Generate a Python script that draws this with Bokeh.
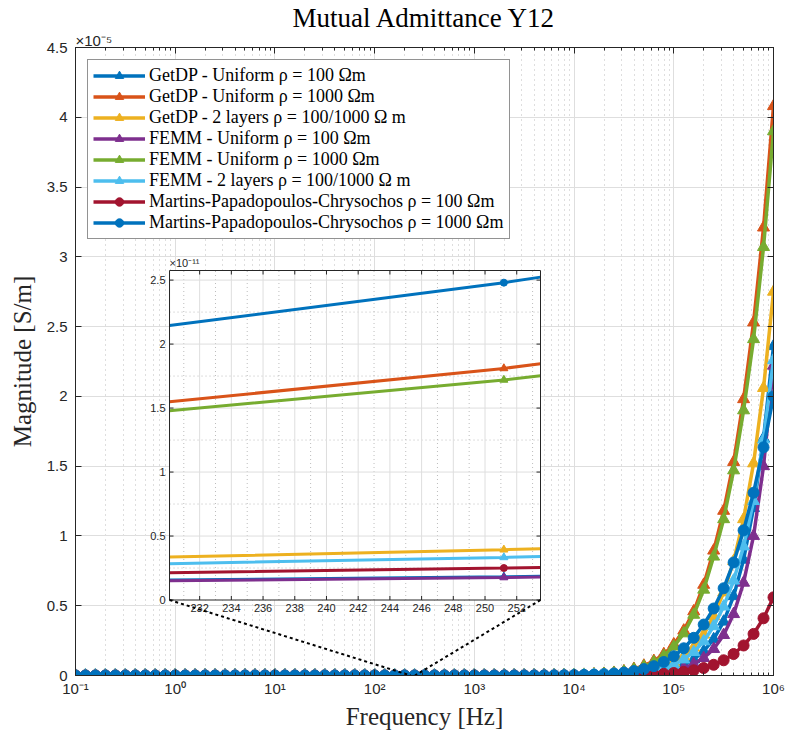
import numpy as np
from bokeh.plotting import figure
from bokeh.models import (Range1d, FixedTicker, LinearScale, LinearAxis, LogAxis,
                          Legend, LegendItem, Title)
from bokeh.core.properties import value
from bokeh.embed import file_html
from bokeh.resources import INLINE

# Frequency sweep: 10 points per decade, 0.1 Hz .. 1 MHz
freq_hz = np.logspace(-1, 6, 71)

# |Y12| in S/m for every model (71 samples each)
getdp_uniform_100 = [
    2.96e-19, 4.70e-19, 7.45e-19, 1.18e-18, 1.87e-18,
    2.96e-18, 4.70e-18, 7.45e-18, 1.18e-17, 1.87e-17,
    2.96e-17, 4.70e-17, 7.45e-17, 1.18e-16, 1.87e-16,
    2.96e-16, 4.70e-16, 7.45e-16, 1.18e-15, 1.87e-15,
    2.96e-15, 4.70e-15, 7.45e-15, 1.18e-14, 1.87e-14,
    2.96e-14, 4.70e-14, 7.45e-14, 1.18e-13, 1.87e-13,
    2.96e-13, 4.70e-13, 7.45e-13, 1.18e-12,
    1.82e-12, 2.85e-12, 4.66e-12, 7.63e-12, 1.25e-11, 2.04e-11, 3.34e-11, 5.47e-11,
    8.94e-11, 1.46e-10, 2.39e-10, 3.92e-10, 6.41e-10, 1.05e-9, 1.71e-9, 2.80e-9,
    4.59e-9, 7.51e-9, 1.23e-8, 2.01e-8, 3.29e-8, 5.38e-8, 8.80e-8, 1.37e-7,
    2.11e-7, 3.25e-7, 4.97e-7, 7.58e-7, 1.15e-6, 1.74e-6, 2.60e-6, 3.86e-6,
    5.68e-6, 8.30e-6, 1.20e-5, 1.70e-5, 2.36e-5,
]
getdp_uniform_1000 = [
    2.94e-18, 4.66e-18, 7.39e-18, 1.17e-17, 1.86e-17,
    2.94e-17, 4.66e-17, 7.39e-17, 1.17e-16, 1.86e-16,
    2.94e-16, 4.66e-16, 7.39e-16, 1.17e-15, 1.86e-15,
    2.94e-15, 4.66e-15, 7.39e-15, 1.17e-14, 1.86e-14,
    2.94e-14, 4.66e-14, 7.39e-14, 1.17e-13, 1.86e-13,
    2.94e-13, 4.66e-13, 7.39e-13, 1.17e-12, 1.86e-12,
    2.94e-12, 4.66e-12, 7.39e-12, 1.17e-11,
    1.81e-11, 2.84e-11, 4.56e-11, 7.24e-11, 1.15e-10, 1.83e-10, 2.90e-10, 4.60e-10,
    7.31e-10, 1.16e-9, 1.84e-9, 2.93e-9, 4.65e-9, 7.39e-9, 1.17e-8, 1.86e-8,
    2.96e-8, 4.70e-8, 7.46e-8, 1.19e-7, 1.88e-7, 2.99e-7, 4.75e-7, 7.05e-7,
    1.04e-6, 1.53e-6, 2.23e-6, 3.22e-6, 4.60e-6, 6.50e-6, 8.95e-6, 1.18e-5,
    1.53e-5, 1.98e-5, 2.53e-5, 3.21e-5, 4.08e-5,
]
getdp_two_layer = [
    6.35e-19, 1.01e-18, 1.60e-18, 2.53e-18, 4.01e-18,
    6.35e-18, 1.01e-17, 1.60e-17, 2.53e-17, 4.01e-17,
    6.35e-17, 1.01e-16, 1.60e-16, 2.53e-16, 4.01e-16,
    6.35e-16, 1.01e-15, 1.60e-15, 2.53e-15, 4.01e-15,
    6.35e-15, 1.01e-14, 1.60e-14, 2.53e-14, 4.01e-14,
    6.35e-14, 1.01e-13, 1.60e-13, 2.53e-13, 4.01e-13,
    6.35e-13, 1.01e-12, 1.60e-12, 2.53e-12,
    3.93e-12, 6.10e-12, 9.94e-12, 1.62e-11, 2.64e-11, 4.31e-11, 7.02e-11, 1.14e-10,
    1.87e-10, 3.04e-10, 4.95e-10, 8.07e-10, 1.32e-9, 2.15e-9, 3.50e-9, 5.70e-9,
    9.29e-9, 1.51e-8, 2.47e-8, 4.02e-8, 6.56e-8, 1.07e-7, 1.76e-7, 2.68e-7,
    4.05e-7, 6.10e-7, 9.20e-7, 1.37e-6, 2.00e-6, 2.93e-6, 4.25e-6, 5.95e-6,
    8.20e-6, 1.12e-5, 1.52e-5, 2.06e-5, 2.75e-5,
]
femm_uniform_100 = [
    2.81e-19, 4.46e-19, 7.07e-19, 1.12e-18, 1.78e-18,
    2.81e-18, 4.46e-18, 7.07e-18, 1.12e-17, 1.78e-17,
    2.81e-17, 4.46e-17, 7.07e-17, 1.12e-16, 1.78e-16,
    2.81e-16, 4.46e-16, 7.07e-16, 1.12e-15, 1.78e-15,
    2.81e-15, 4.46e-15, 7.07e-15, 1.12e-14, 1.78e-14,
    2.81e-14, 4.46e-14, 7.07e-14, 1.12e-13, 1.78e-13,
    2.81e-13, 4.46e-13, 7.07e-13, 1.12e-12,
    1.76e-12, 2.74e-12, 4.43e-12, 7.17e-12, 1.16e-11, 1.87e-11, 3.03e-11, 4.90e-11,
    7.92e-11, 1.28e-10, 2.07e-10, 3.35e-10, 5.42e-10, 8.76e-10, 1.42e-9, 2.29e-9,
    3.70e-9, 5.99e-9, 9.68e-9, 1.57e-8, 2.53e-8, 4.09e-8, 6.62e-8, 1.00e-7,
    1.53e-7, 2.33e-7, 3.55e-7, 5.40e-7, 8.20e-7, 1.25e-6, 1.90e-6, 2.90e-6,
    4.40e-6, 6.65e-6, 1.00e-5, 1.50e-5, 2.22e-5,
]
femm_uniform_1000 = [
    2.84e-18, 4.50e-18, 7.14e-18, 1.13e-17, 1.79e-17,
    2.84e-17, 4.50e-17, 7.14e-17, 1.13e-16, 1.79e-16,
    2.84e-16, 4.50e-16, 7.14e-16, 1.13e-15, 1.79e-15,
    2.84e-15, 4.50e-15, 7.14e-15, 1.13e-14, 1.79e-14,
    2.84e-14, 4.50e-14, 7.14e-14, 1.13e-13, 1.79e-13,
    2.84e-13, 4.50e-13, 7.14e-13, 1.13e-12, 1.79e-12,
    2.84e-12, 4.50e-12, 7.14e-12, 1.13e-11,
    1.72e-11, 2.65e-11, 4.21e-11, 6.68e-11, 1.06e-10, 1.68e-10, 2.67e-10, 4.23e-10,
    6.72e-10, 1.07e-9, 1.69e-9, 2.68e-9, 4.26e-9, 6.76e-9, 1.07e-8, 1.70e-8,
    2.70e-8, 4.28e-8, 6.79e-8, 1.08e-7, 1.71e-7, 2.71e-7, 4.31e-7, 6.43e-7,
    9.55e-7, 1.41e-6, 2.07e-6, 3.02e-6, 4.35e-6, 6.15e-6, 8.52e-6, 1.12e-5,
    1.47e-5, 1.90e-5, 2.41e-5, 3.07e-5, 3.90e-5,
]
femm_two_layer = [
    5.35e-19, 8.48e-19, 1.34e-18, 2.13e-18, 3.38e-18,
    5.35e-18, 8.48e-18, 1.34e-17, 2.13e-17, 3.38e-17,
    5.35e-17, 8.48e-17, 1.34e-16, 2.13e-16, 3.38e-16,
    5.35e-16, 8.48e-16, 1.34e-15, 2.13e-15, 3.38e-15,
    5.35e-15, 8.48e-15, 1.34e-14, 2.13e-14, 3.38e-14,
    5.35e-14, 8.48e-14, 1.34e-13, 2.13e-13, 3.38e-13,
    5.35e-13, 8.48e-13, 1.34e-12, 2.13e-12,
    3.33e-12, 5.20e-12, 8.40e-12, 1.37e-11, 2.23e-11, 3.64e-11, 5.93e-11, 9.63e-11,
    1.58e-10, 2.57e-10, 4.18e-10, 6.82e-10, 1.11e-9, 1.82e-9, 2.96e-9, 4.82e-9,
    7.85e-9, 1.28e-8, 2.09e-8, 3.40e-8, 5.54e-8, 9.04e-8, 1.48e-7, 2.26e-7,
    3.42e-7, 5.15e-7, 7.75e-7, 1.15e-6, 1.68e-6, 2.45e-6, 3.53e-6, 4.94e-6,
    6.80e-6, 9.25e-6, 1.25e-5, 1.69e-5, 2.26e-5,
]
mpc_100 = [
    3.99e-19, 6.33e-19, 1.00e-18, 1.59e-18, 2.52e-18,
    3.99e-18, 6.33e-18, 1.00e-17, 1.59e-17, 2.52e-17,
    3.99e-17, 6.33e-17, 1.00e-16, 1.59e-16, 2.52e-16,
    3.99e-16, 6.33e-16, 1.00e-15, 1.59e-15, 2.52e-15,
    3.99e-15, 6.33e-15, 1.00e-14, 1.59e-14, 2.52e-14,
    3.99e-14, 6.33e-14, 1.00e-13, 1.59e-13, 2.52e-13,
    3.99e-13, 6.33e-13, 1.00e-12, 1.59e-12,
    2.50e-12, 3.75e-12, 5.82e-12, 9.04e-12, 1.40e-11, 2.18e-11, 3.39e-11, 5.26e-11,
    8.17e-11, 1.27e-10, 1.97e-10, 3.06e-10, 4.75e-10, 7.38e-10, 1.15e-9, 1.78e-9,
    2.76e-9, 4.29e-9, 6.67e-9, 1.04e-8, 1.61e-8, 2.50e-8, 3.88e-8, 5.70e-8,
    8.35e-8, 1.22e-7, 1.78e-7, 2.58e-7, 3.73e-7, 5.37e-7, 7.68e-7, 1.09e-6,
    1.54e-6, 2.15e-6, 2.98e-6, 4.10e-6, 5.60e-6,
]
mpc_1000 = [
    4.16e-18, 6.60e-18, 1.05e-17, 1.66e-17, 2.63e-17,
    4.16e-17, 6.60e-17, 1.05e-16, 1.66e-16, 2.63e-16,
    4.16e-16, 6.60e-16, 1.05e-15, 1.66e-15, 2.63e-15,
    4.16e-15, 6.60e-15, 1.05e-14, 1.66e-14, 2.63e-14,
    4.16e-14, 6.60e-14, 1.05e-13, 1.66e-13, 2.63e-13,
    4.16e-13, 6.60e-13, 1.05e-12, 1.66e-12, 2.63e-12,
    4.16e-12, 6.60e-12, 1.05e-11, 1.66e-11,
    2.48e-11, 3.70e-11, 5.77e-11, 9.00e-11, 1.41e-10, 2.19e-10, 3.42e-10, 5.34e-10,
    8.33e-10, 1.30e-9, 2.03e-9, 3.16e-9, 4.93e-9, 7.70e-9, 1.20e-8, 1.87e-8,
    2.92e-8, 4.36e-8, 6.50e-8, 9.70e-8, 1.44e-7, 2.13e-7, 3.14e-7, 4.60e-7,
    6.70e-7, 9.70e-7, 1.38e-6, 1.95e-6, 2.70e-6, 3.65e-6, 4.80e-6, 6.25e-6,
    8.10e-6, 1.04e-5, 1.31e-5, 1.635e-5, 2.00e-5,
]

series = [
    ("GetDP - Uniform ρ = 100 Ωm", getdp_uniform_100, "#0072BD", "triangle"),
    ("GetDP - Uniform ρ = 1000 Ωm", getdp_uniform_1000, "#D95319", "triangle"),
    ("GetDP - 2 layers ρ = 100/1000 Ω m", getdp_two_layer, "#EDB120", "triangle"),
    ("FEMM - Uniform ρ = 100 Ωm", femm_uniform_100, "#7E2F8E", "triangle"),
    ("FEMM - Uniform ρ = 1000 Ωm", femm_uniform_1000, "#77AC30", "triangle"),
    ("FEMM - 2 layers ρ = 100/1000 Ω m", femm_two_layer, "#4DBEEE", "triangle"),
    ("Martins-Papadopoulos-Chrysochos ρ = 100 Ωm", mpc_100, "#A2142F", "circle"),
    ("Martins-Papadopoulos-Chrysochos ρ = 1000 Ωm", mpc_1000, "#0072BD", "circle"),
]
for _, vals, _, _ in series:
    assert len(vals) == len(freq_hz)

x_tick_values = [1e-1, 1e0, 1e1, 1e2, 1e3, 1e4, 1e5, 1e6]
x_tick_labels = ["10⁻¹", "10⁰", "10¹", "10²", "10³", "10⁴", "10⁵", "10⁶"]
y_tick_values = [0.0, 0.5e-5, 1.0e-5, 1.5e-5, 2.0e-5, 2.5e-5, 3.0e-5, 3.5e-5, 4.0e-5, 4.5e-5]
y_tick_labels = ["0", "0.5", "1", "1.5", "2", "2.5", "3", "3.5", "4", "4.5"]

# zoomed window around 240 Hz
inset_f_range = (230.1, 253.5)
inset_y_range = (0.0, 2.575e-11)
inset_x_ticks = [232, 234, 236, 238, 240, 242, 244, 246, 248, 250, 252]
inset_x_labels = ["232", "234", "236", "238", "240", "242", "244", "246", "248", "250", "252"]
inset_y_ticks = [0.0, 0.5e-11, 1.0e-11, 1.5e-11, 2.0e-11, 2.5e-11]
inset_y_labels = ["0", "0.5", "1", "1.5", "2", "2.5"]

AX = "#262626"
GRID = "#dedede"
MINOR = "#bdbdbd"
SERIF = "Liberation Serif"
SANS = "Liberation Sans"

FRAME_W, FRAME_H = 698, 628
X_MAIN = (0.1, 1e6)
Y_MAIN = (0.0, 4.5e-5)

p = figure(width=788, height=735, x_axis_type="log",
           x_range=Range1d(*X_MAIN), y_range=Range1d(*Y_MAIN),
           output_backend="svg", toolbar_location=None,
           min_border_left=75, min_border_right=15, min_border_top=47, min_border_bottom=60,
           background_fill_color="white", border_fill_color="white")
p.outline_line_color = AX

x_minor = [m * 10.0 ** e for e in range(-1, 6) for m in range(2, 10)]
xticker = FixedTicker(ticks=x_tick_values, minor_ticks=x_minor)
yticker = FixedTicker(ticks=y_tick_values, minor_ticks=[])

for ax in (p.xaxis[0], p.yaxis[0]):
    ax.axis_line_color = AX
    ax.major_tick_line_color = AX
    ax.minor_tick_line_color = AX
    ax.major_tick_in = 6
    ax.major_tick_out = 0
    ax.minor_tick_in = 3
    ax.minor_tick_out = 0
    ax.major_label_text_font = SANS
    ax.major_label_text_font_size = "15px"
    ax.major_label_text_color = AX
    ax.axis_label_text_font = SERIF
    ax.axis_label_text_font_size = "25px"
    ax.axis_label_text_font_style = "normal"
    ax.axis_label_text_color = AX

p.xaxis.ticker = xticker
p.xaxis.major_label_overrides = dict(zip(x_tick_values, x_tick_labels))
p.xaxis.axis_label = "Frequency [Hz]"
p.xaxis.major_label_standoff = 4
p.xaxis.axis_label_standoff = 3
p.yaxis.ticker = yticker
p.yaxis.major_label_overrides = dict(zip(y_tick_values, y_tick_labels))
p.yaxis.axis_label = "Magnitude [S/m]"
p.yaxis.major_label_standoff = 8
p.yaxis.axis_label_standoff = 8

p.xgrid.ticker = xticker
p.ygrid.ticker = yticker
p.xgrid.grid_line_color = GRID
p.ygrid.grid_line_color = GRID
p.xgrid.minor_grid_line_color = MINOR
p.xgrid.minor_grid_line_dash = "1 4"
p.ygrid.minor_grid_line_color = None

# box: tick marks on the top and right edges too (labels left blank)
top_ax = LogAxis(ticker=xticker, axis_line_color=AX,
                 major_label_overrides={t: "" for t in x_tick_values},
                 major_tick_line_color=AX, minor_tick_line_color=AX,
                 major_tick_in=6, major_tick_out=0, minor_tick_in=3, minor_tick_out=0,
                 major_label_standoff=0)
right_ax = LinearAxis(ticker=yticker, axis_line_color=AX,
                      major_label_overrides={t: "" for t in y_tick_values},
                      major_tick_line_color=AX, major_tick_in=6, major_tick_out=0,
                      minor_tick_in=0, minor_tick_out=0, major_label_standoff=0)
p.add_layout(top_ax, "above")
p.add_layout(right_ax, "right")

# axis multiplier right above the y axis, then the plot title
p.title = None
p.add_layout(Title(text="×10⁻⁵", align="left", text_font=SANS, text_font_size="15px",
                   text_font_style="normal", text_color=AX, standoff=-2), "above")
p.add_layout(Title(text="Mutual Admittance Y12", align="center", text_font=SERIF,
                   text_font_size="27px", text_font_style="normal", text_color="black",
                   standoff=-4), "above")

# main curves
legend_items = []
for label, vals, color, marker in series:
    ln = p.line(freq_hz, vals, line_color=color, line_width=3.5)
    mk = p.scatter(freq_hz, vals, marker=marker, size=12 if marker == "triangle" else 11,
                   fill_color=color, line_color=color)
    legend_items.append(LegendItem(label=label, renderers=[ln, mk]))

# inset placed inside the main frame (fractions of the frame)
fx0, fx1 = 0.1347, 0.6662
fy0, fy1 = 0.1202, 0.6449
fspan = (inset_f_range[1] - inset_f_range[0]) / (fx1 - fx0)
yspan = (inset_y_range[1] - inset_y_range[0]) / (fy1 - fy0)
ix_start = inset_f_range[0] - fx0 * fspan
iy_start = inset_y_range[0] - fy0 * yspan
p.extra_x_ranges = {"ix": Range1d(ix_start, ix_start + fspan)}
p.extra_y_ranges = {"iy": Range1d(iy_start, iy_start + yspan)}
p.extra_x_scales = {"ix": LinearScale()}
p.extra_y_scales = {"iy": LinearScale()}
IN = dict(x_range_name="ix", y_range_name="iy")
x0, x1 = inset_f_range
y0, y1 = inset_y_range
px_x = fspan / FRAME_W
px_y = yspan / FRAME_H

p.quad(left=[x0], right=[x1], bottom=[y0], top=[y1], fill_color="white",
       line_color=None, **IN)
minor_x = [t + 1 for t in inset_x_ticks] + [inset_x_ticks[0] - 1]
minor_x = [m for m in minor_x if x0 < m < x1]
p.segment(x0=minor_x, y0=[y0] * len(minor_x), x1=minor_x, y1=[y1] * len(minor_x),
          line_color=MINOR, line_width=1, line_dash="1 3", **IN)
minor_y = [t + 0.25e-11 for t in inset_y_ticks if t + 0.25e-11 < y1]
p.segment(x0=[x0] * len(minor_y), y0=minor_y, x1=[x1] * len(minor_y), y1=minor_y,
          line_color=MINOR, line_width=1, line_dash="1 3", **IN)
p.segment(x0=inset_x_ticks, y0=[y0] * len(inset_x_ticks), x1=inset_x_ticks,
          y1=[y1] * len(inset_x_ticks), line_color=GRID, line_width=1, **IN)
gy = inset_y_ticks[1:]
p.segment(x0=[x0] * len(gy), y0=gy, x1=[x1] * len(gy), y1=gy,
          line_color=GRID, line_width=1, **IN)

f_arr = np.asarray(freq_hz)
for label, vals, color, marker in series:
    v = np.asarray(vals)
    inside = (f_arr > x0) & (f_arr < x1)
    xs = np.concatenate([[x0], f_arr[inside], [x1]])
    ys = np.interp(xs, f_arr, v)
    p.line(xs, ys, line_color=color, line_width=3, **IN)
    p.scatter(f_arr[inside], v[inside], marker=marker, size=8 if marker == "triangle" else 7,
              fill_color=color, line_color=color, **IN)

# inset frame and ticks
p.quad(left=[x0], right=[x1], bottom=[y0], top=[y1], fill_color=None,
       line_color=AX, line_width=1, **IN)
tl = 4
p.segment(x0=inset_x_ticks, y0=[y0] * len(inset_x_ticks), x1=inset_x_ticks,
          y1=[y0 + tl * px_y] * len(inset_x_ticks), line_color=AX, **IN)
p.segment(x0=inset_x_ticks, y0=[y1] * len(inset_x_ticks), x1=inset_x_ticks,
          y1=[y1 - tl * px_y] * len(inset_x_ticks), line_color=AX, **IN)
p.segment(x0=[x0] * len(inset_y_ticks), y0=inset_y_ticks, x1=[x0 + tl * px_x] * len(inset_y_ticks),
          y1=inset_y_ticks, line_color=AX, **IN)
p.segment(x0=[x1] * len(inset_y_ticks), y0=inset_y_ticks, x1=[x1 - tl * px_x] * len(inset_y_ticks),
          y1=inset_y_ticks, line_color=AX, **IN)
p.text(x=inset_x_ticks, y=[y0] * len(inset_x_ticks), text=inset_x_labels,
       text_font=value(SANS), text_font_size="11px", text_color=AX,
       text_align="center", text_baseline="top", y_offset=4, **IN)
p.text(x=[x0] * len(inset_y_ticks), y=inset_y_ticks, text=inset_y_labels,
       text_font=value(SANS), text_font_size="11px", text_color=AX,
       text_align="right", text_baseline="middle", x_offset=-4, **IN)
p.text(x=[x0], y=[y1], text=["×10⁻¹¹"], text_font=value(SANS), text_font_size="11px",
       text_color=AX, text_align="left", text_baseline="bottom", y_offset=-2, **IN)

# dotted connectors from the inset's lower corners to the zoomed spot
def frame_to_main_x(fx):
    lo, hi = np.log10(X_MAIN[0]), np.log10(X_MAIN[1])
    return 10 ** (lo + fx * (hi - lo))

cy = Y_MAIN[0] + fy0 * (Y_MAIN[1] - Y_MAIN[0])
p.segment(x0=[frame_to_main_x(fx0), frame_to_main_x(fx1)], y0=[cy, cy],
          x1=[inset_f_range[0], inset_f_range[1]], y1=[0.0, 0.0],
          line_color="black", line_width=2, line_dash="3 3")

legend = Legend(items=legend_items, location="top_left", margin=12, padding=5,
                spacing=0, glyph_width=52, glyph_height=21, label_height=21,
                label_standoff=4, label_text_font=SERIF, label_text_font_size="18px",
                label_text_color="black", border_line_color=AX, border_line_width=1,
                background_fill_color="white", background_fill_alpha=1.0)
p.add_layout(legend)

open("out.html", "w").write(file_html(p, INLINE))
